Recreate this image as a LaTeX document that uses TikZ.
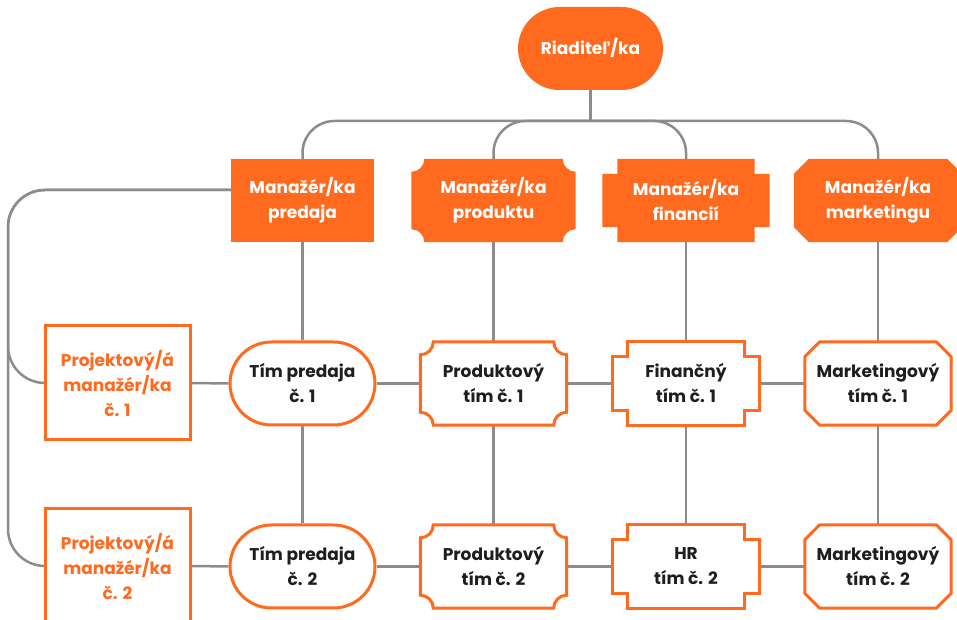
\documentclass[tikz,border=0pt]{standalone}
\usepackage{fontspec}
\setmainfont{Poppins}
\usetikzlibrary{shapes.misc,backgrounds,calc}

\definecolor{brand}{HTML}{FF6A1F}
\definecolor{wire}{HTML}{8C8C8C}
\definecolor{ink}{HTML}{1E1E1E}

% outlines drawn around plain rectangular nodes
\newcommand\scoopedoutline[3]{% node, corner radius, path options
  \path[#3] let \p1=(#1.south west), \p2=(#1.north east) in
    (\x1+#2pt,\y2) -- (\x2-#2pt,\y2)
    arc[start angle=180,end angle=270,radius=#2pt] -- (\x2,\y1+#2pt)
    arc[start angle=90,end angle=180,radius=#2pt] -- (\x1+#2pt,\y1)
    arc[start angle=0,end angle=90,radius=#2pt] -- (\x1,\y2-#2pt)
    arc[start angle=-90,end angle=0,radius=#2pt] -- cycle;}
\newcommand\notchedoutline[3]{% node, notch size, path options
  \path[#3] let \p1=(#1.south west), \p2=(#1.north east) in
    (\x1+#2pt,\y2) -- (\x2-#2pt,\y2) -- (\x2-#2pt,\y2-#2pt) -- (\x2,\y2-#2pt)
    -- (\x2,\y1+#2pt) -- (\x2-#2pt,\y1+#2pt) -- (\x2-#2pt,\y1) -- (\x1+#2pt,\y1)
    -- (\x1+#2pt,\y1+#2pt) -- (\x1,\y1+#2pt) -- (\x1,\y2-#2pt) -- (\x1+#2pt,\y2-#2pt) -- cycle;}
\newcommand\cutoutline[3]{% node, chamfer size, path options
  \path[#3] let \p1=(#1.south west), \p2=(#1.north east) in
    (\x1+#2pt,\y2) -- (\x2-#2pt,\y2) -- (\x2,\y2-#2pt) -- (\x2,\y1+#2pt)
    -- (\x2-#2pt,\y1) -- (\x1+#2pt,\y1) -- (\x1,\y1+#2pt) -- (\x1,\y2-#2pt) -- cycle;}

\tikzset{
  label font/.style={font=\bfseries\fontsize{17}{25}\selectfont},
  box/.style={rectangle, inner sep=0pt, minimum height=83pt, align=center, label font},
  mgr/.style={box, text=white},
  team/.style={box, text=ink, minimum width=146pt},
  pill/.style={rounded rectangle, inner sep=0pt, minimum height=83pt, align=center, label font},
  projbox/.style={rectangle, draw=brand, line width=3pt, fill=white, inner sep=0pt,
    minimum width=145pt, minimum height=114pt, align=center, text=brand, label font},
  conn/.style={draw=wire, line width=2.5pt},
  bend/.style={conn, rounded corners=#1},
  filled/.style={fill=brand},
  framed/.style={draw=brand, fill=white, line width=3pt, line join=miter},
}

\begin{document}
\begin{tikzpicture}[x=1pt,y=1pt]
\useasboundingbox (0,0) rectangle (957,620);
\clip (0,0) rectangle (957,620);

% top
\node[pill, fill=brand, text=white, minimum width=145pt] (dir) at (590.5,571.5) {Riaditeľ/ka};

% managers
\node[mgr, minimum width=143pt, fill=brand] (m1) at (302.5,419.5) {Manažér/ka\\predaja};
\node[mgr, minimum width=164pt] (m2) at (493.5,419.5) {Manažér/ka\\produktu};
\node[mgr, minimum width=167pt] (m3) at (686,419.5) {Manažér/ka\\financií};
\node[mgr, minimum width=168pt] (m4) at (878,419.5) {Manažér/ka\\marketingu};

% teams, first row
\node[pill, draw=brand, fill=white, line width=3pt, text=ink, minimum width=145pt] (a1) at (302.5,236.5) {Tím predaja\\č. 1};
\node[team] (b1) at (493.5,236.5) {Produktový\\tím č. 1};
\node[team] (c1) at (686,236.5) {Finančný\\tím č. 1};
\node[team] (d1) at (878,236.5) {Marketingový\\tím č. 1};

% teams, second row
\node[pill, draw=brand, fill=white, line width=3pt, text=ink, minimum width=145pt] (a2) at (302.5,53.5) {Tím predaja\\č. 2};
\node[team] (b2) at (493.5,53.5) {Produktový\\tím č. 2};
\node[team] (c2) at (686,53.5) {HR\\tím č. 2};
\node[team] (d2) at (878,53.5) {Marketingový\\tím č. 2};

% project managers
\node[projbox] (p1) at (117.5,237) {Projektový/á\\manažér/ka\\č. 1};
\node[projbox] (p2) at (117.5,54) {Projektový/á\\manažér/ka\\č. 2};

\coordinate (tbus) at (590.5,499);
\coordinate (lbus) at (8,430);

\begin{pgfonlayer}{background}
  % reporting lines
  \draw[conn] (dir.south) -- (tbus);
  \foreach \m in {m1,m2,m3,m4}
    \draw[bend=32pt] (tbus) -| (\m.north);
  \draw[bend=37pt] (m1.west |- lbus) -- (lbus) |- (p1.west);
  \draw[bend=37pt] (m1.west |- lbus) -- (lbus) |- (p2.west);
  \foreach \col in {1,2,3,4}{
    \pgfmathsetmacro\t{{"a","b","c","d"}[\col-1]}
    \draw[conn] (m\col.south) -- (\t1.north);
    \draw[conn] (\t1.south) -- (\t2.north);
  }
  \foreach \r in {1,2}{
    \draw[conn] (p\r.east) -- (a\r.west);
    \draw[conn] (a\r.east) -- (b\r.west);
    \draw[conn] (b\r.east) -- (c\r.west);
    \draw[conn] (c\r.east) -- (d\r.west);
  }
  % box outlines
  \scoopedoutline{m2}{13}{filled}
  \notchedoutline{m3}{15}{filled}
  \cutoutline{m4}{15}{filled}
  \scoopedoutline{b1}{13}{framed}
  \notchedoutline{c1}{15}{framed}
  \cutoutline{d1}{15}{framed}
  \scoopedoutline{b2}{13}{framed}
  \notchedoutline{c2}{15}{framed}
  \cutoutline{d2}{15}{framed}
\end{pgfonlayer}
\end{tikzpicture}
\end{document}
